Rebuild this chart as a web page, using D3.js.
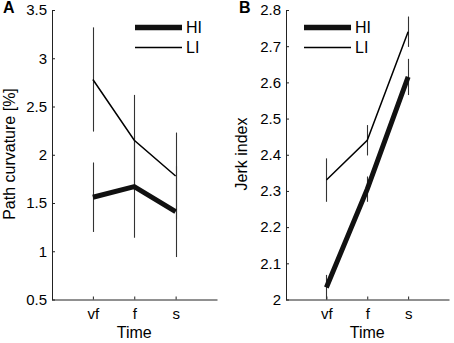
<!DOCTYPE html>
<html>
<head>
<meta charset="utf-8">
<script src="https://cdn.jsdelivr.net/npm/d3@7"></script>
<style>
body { margin: 0; background: #fff; }
svg text { font-family: "Liberation Sans", Arial, sans-serif; fill: #000; }
.axis path, .axis line { stroke: #222; }
</style>
</head>
<body>
<div id="chart"></div>
<script>

// categories on x axis
var times = ["vf", "f", "s"];

// panel A - path curvature [%]
var curvHI = [1.56, 1.67, 1.41];
var curvHIerr = [0.36, 0.53, 0.47];
var curvLI = [2.78, 2.15, 1.78];
var curvLIerr = [0.54, 0.47, 0.45];
var curvTicks = [0.5, 1, 1.5, 2, 2.5, 3, 3.5];

// panel B - jerk index
var jerkHI = [2.033, 2.305, 2.615];
var jerkHIerr = [0.035, 0.035, 0.05];
var jerkLI = [2.33, 2.44, 2.74];
var jerkLIerr = [0.06, 0.042, 0.042];
var jerkTicks = [2, 2.1, 2.2, 2.3, 2.4, 2.5, 2.6, 2.7, 2.8];

var w = 454, h = 343;

var svg = d3.select("#chart")
	.append("svg")
	.attr("width", w)
	.attr("height", h);

function drawPanel(opt) {
	var g = svg.append("g");

	var xScale = d3.scaleLinear()
		.domain([0, 4])
		.range([opt.left, opt.right]);

	var yScale = d3.scaleLinear()
		.domain(opt.yDomain)
		.range([299.5, 10]);

	var xAxis = d3.axisBottom()
		.scale(xScale)
		.tickValues([1, 2, 3])
		.tickFormat(function(d) { return times[d - 1]; })
		.tickSizeInner(-3)
		.tickSizeOuter(0)
		.tickPadding(9);

	var yAxis = d3.axisLeft()
		.scale(yScale)
		.tickValues(opt.ticks)
		.tickFormat(function(d) { return opt.fmt(d); })
		.tickSizeInner(-3)
		.tickSizeOuter(0)
		.tickPadding(5);

	g.append("g")
		.attr("class", "axis")
		.attr("transform", "translate(0,299.5)")
		.call(xAxis)
		.selectAll("text")
		.style("font-size", "15px");

	g.append("g")
		.attr("class", "axis")
		.attr("transform", "translate(" + (opt.left + 0.5) + ",0)")
		.call(yAxis)
		.selectAll("text")
		.style("font-size", "15px");

	g.selectAll(".axis .domain").attr("stroke", "#222");

	// error bars
	var series = [
		{ v: opt.hi, e: opt.hiErr },
		{ v: opt.li, e: opt.liErr }
	];
	series.forEach(function(s) {
		g.append("g")
			.selectAll("line")
			.data(s.v)
			.enter()
			.append("line")
			.attr("x1", function(d, i) { return Math.round(xScale(i + 1)) + 0.5; })
			.attr("x2", function(d, i) { return Math.round(xScale(i + 1)) + 0.5; })
			.attr("y1", function(d, i) { return yScale(Math.max(opt.yDomain[0], d - s.e[i])); })
			.attr("y2", function(d, i) { return yScale(d + s.e[i]); })
			.attr("stroke", "#333")
			.attr("stroke-width", 1.1);
	});

	var line = d3.line()
		.x(function(d, i) { return xScale(i + 1); })
		.y(function(d) { return yScale(d); });

	g.append("path")
		.datum(opt.li)
		.attr("d", line)
		.attr("fill", "none")
		.attr("stroke", "#000")
		.attr("stroke-width", 1.5);

	g.append("path")
		.datum(opt.hi)
		.attr("d", line)
		.attr("fill", "none")
		.attr("stroke", "#111")
		.attr("stroke-width", 5);

	// legend
	var lx = opt.legendX;
	g.append("line")
		.attr("x1", lx).attr("x2", lx + 47)
		.attr("y1", 27.5).attr("y2", 27.5)
		.attr("stroke", "#111").attr("stroke-width", 5.5);
	g.append("line")
		.attr("x1", lx).attr("x2", lx + 47)
		.attr("y1", 47.5).attr("y2", 47.5)
		.attr("stroke", "#000").attr("stroke-width", 1.5);
	g.append("text")
		.attr("x", lx + 51).attr("y", 33)
		.style("font-size", "16px")
		.text("HI");
	g.append("text")
		.attr("x", lx + 51).attr("y", 53)
		.style("font-size", "16px")
		.text("LI");

	// panel letter
	g.append("text")
		.attr("x", opt.letterX).attr("y", 13)
		.style("font-size", "16px")
		.style("font-weight", "bold")
		.text(opt.letter);

	// axis labels
	g.append("text")
		.attr("text-anchor", "middle")
		.attr("x", (opt.left + opt.right) / 2)
		.attr("y", 338)
		.style("font-size", "16px")
		.text("Time");

	g.append("text")
		.attr("text-anchor", "middle")
		.attr("transform", "rotate(-90)")
		.attr("x", -154)
		.attr("y", opt.ylabelX)
		.style("font-size", "16px")
		.text(opt.ylabel);
}

drawPanel({
	left: 51.5, right: 217,
	yDomain: [0.5, 3.5], ticks: curvTicks,
	fmt: function(d) { return d3.format("")(d); },
	hi: curvHI, hiErr: curvHIerr, li: curvLI, liErr: curvLIerr,
	legendX: 135, letter: "A", letterX: 3,
	ylabel: "Path curvature [%]", ylabelX: 15
});

drawPanel({
	left: 285.5, right: 449,
	yDomain: [2, 2.8], ticks: jerkTicks,
	fmt: function(d) { return d === 2 ? "2" : d3.format(".1f")(d); },
	hi: jerkHI, hiErr: jerkHIerr, li: jerkLI, liErr: jerkLIerr,
	legendX: 304, letter: "B", letterX: 239,
	ylabel: "Jerk index", ylabelX: 247
});

</script>
</body>
</html>
